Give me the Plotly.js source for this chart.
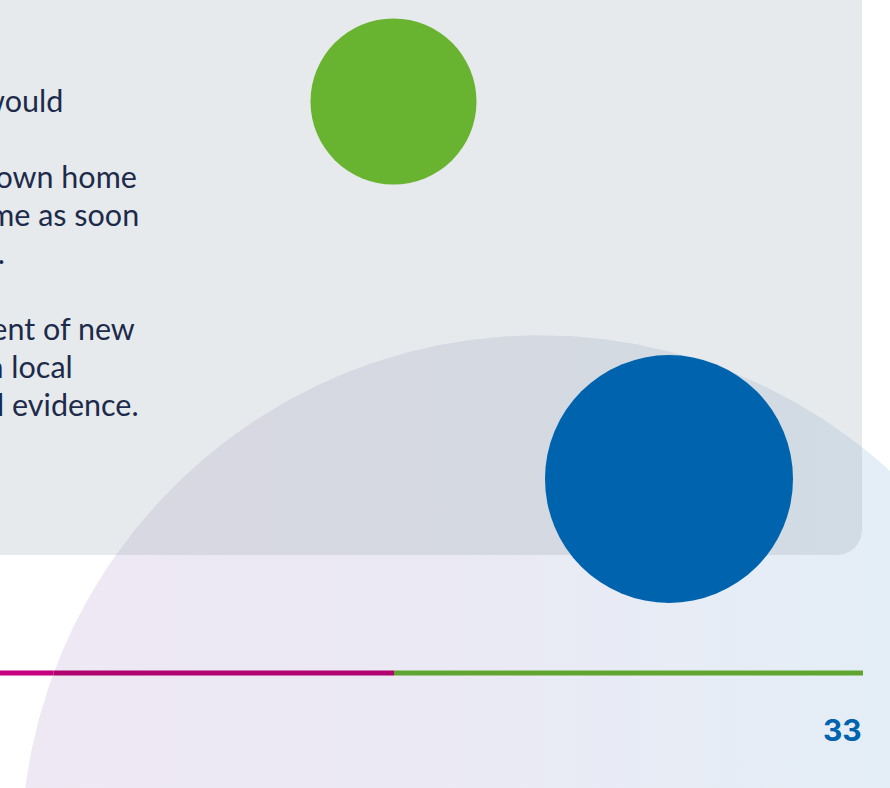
<!DOCTYPE html>
<html>
<head>
<meta charset="utf-8">
<script src="https://cdn.plot.ly/plotly-3.0.1.min.js"></script>
<style>
  html, body { margin: 0; padding: 0; background: #ffffff; }
  #chart { width: 890px; height: 788px; }
</style>
</head>
<body>
<div id="chart"></div>
<script>
const bodyLines = [
  'to continue living safely',
  'older people would',
  'to stay in their own home',
  'or to return home as soon',
  'as possible.',
  'support the development of new',
  'services, based on local',
  'intelligence and national evidence.'
];
const bodyLineRight = [22, 63, 137, 139, 5, 135, 73, 139];
const bodyLineBaseline = [-2, 111, 187, 225, 263, 339, 377, 415];

const dotNames = ['green dot', 'blue dot'];
const dotX = [393.5, 669];
const dotY = [101.5, 479];
const dotDiameter = [166, 248];
const dotColors = ['#68b32f', '#0063ae'];

const arcCenter = [540, 854.2];
const arcRadius = 519;

const pageNumber = '33';

// ---- page geometry ----
const W = 890, H = 788;
const panelRight = 862, panelBottom = 555, panelCorner = 25;
const ruleY = 673, ruleSplit = 394, ruleEnd = 863, ruleHalf = 2.6;

// big arc outline
const N = 400;
const arcX = [], arcY = [];
for (let i = 0; i <= N; i++) {
  const t = 2 * Math.PI * i / N;
  arcX.push(arcCenter[0] + arcRadius * Math.cos(t));
  arcY.push(arcCenter[1] + arcRadius * Math.sin(t));
}

// part of the arc that lies over the grey panel
const tLeft = Math.PI + Math.asin((arcCenter[1] - panelBottom) / arcRadius);
const tRight = 2 * Math.PI - Math.acos((panelRight - arcCenter[0]) / arcRadius);
const ovX = [], ovY = [];
for (let i = 0; i <= 200; i++) {
  const t = tLeft + (tRight - tLeft) * i / 200;
  ovX.push(arcCenter[0] + arcRadius * Math.cos(t));
  ovY.push(arcCenter[1] + arcRadius * Math.sin(t));
}
ovX.push(panelRight); ovY.push(panelBottom - panelCorner);
for (let i = 0; i <= 20; i++) {
  const a = (Math.PI / 2) * i / 20;
  ovX.push(panelRight - panelCorner + panelCorner * Math.cos(a));
  ovY.push(panelBottom - panelCorner + panelCorner * Math.sin(a));
}
ovX.push(ovX[0]); ovY.push(panelBottom);

const edgeAtRule = arcCenter[0] - Math.sqrt(arcRadius * arcRadius - Math.pow(ruleY - arcCenter[1], 2));

const traces = [
  {
    type: 'scatter', mode: 'lines', x: arcX, y: arcY,
    fill: 'toself', line: { width: 0 }, hoverinfo: 'skip',
    fillcolor: 'rgb(235,233,244)',
    fillgradient: {
      type: 'horizontal', start: 0, stop: W,
      colorscale: [[0, 'rgb(238,232,243)'], [0.45, 'rgb(235,233,244)'], [1, 'rgb(228,238,246)']]
    }
  },
  {
    type: 'scatter', mode: 'lines', x: ovX, y: ovY,
    fill: 'toself', line: { width: 0 }, hoverinfo: 'skip',
    fillcolor: 'rgb(213,217,225)',
    fillgradient: {
      type: 'horizontal', start: 0, stop: W,
      colorscale: [[0, 'rgb(217,216,226)'], [0.56, 'rgb(213,217,225)'], [1, 'rgb(209,220,228)']]
    }
  },
  {
    type: 'scatter', mode: 'markers', x: dotX, y: dotY, text: dotNames,
    hoverinfo: 'text', cliponaxis: false,
    marker: { size: dotDiameter, color: dotColors, line: { width: 0 }, opacity: 1 }
  }
];

const panelPath = 'M -20,-20 L ' + panelRight + ',-20 L ' + panelRight + ',' + (panelBottom - panelCorner) +
  ' Q ' + panelRight + ',' + panelBottom + ' ' + (panelRight - panelCorner) + ',' + panelBottom +
  ' L -20,' + panelBottom + ' Z';

const shapes = [
  { type: 'path', path: panelPath, xref: 'x', yref: 'y', fillcolor: '#e7eaec', line: { width: 0 }, layer: 'below' },
  { type: 'rect', xref: 'x', yref: 'y', x0: 0, x1: edgeAtRule, y0: ruleY - ruleHalf, y1: ruleY + ruleHalf,
    fillcolor: '#c4007e', line: { width: 0 }, layer: 'above' },
  { type: 'rect', xref: 'x', yref: 'y', x0: edgeAtRule, x1: ruleSplit, y0: ruleY - ruleHalf, y1: ruleY + ruleHalf,
    fillcolor: '#b0036f', line: { width: 0 }, layer: 'above' },
  { type: 'rect', xref: 'x', yref: 'y', x0: ruleSplit, x1: ruleEnd, y0: ruleY - ruleHalf, y1: ruleY + ruleHalf,
    fillcolor: '#5fa52f', line: { width: 0 }, layer: 'above' }
];

const bodyFont = { family: 'Lato, "Noto Sans", sans-serif', size: 30.5, color: '#1d2b4b' };
const annotations = bodyLines.map((t, i) => ({
  text: t, xref: 'x', yref: 'y', x: bodyLineRight[i] + 2, y: bodyLineBaseline[i] - 11.5,
  xanchor: 'right', yanchor: 'middle', showarrow: false, font: bodyFont, align: 'right'
}));
annotations.push({
  text: '<b>' + pageNumber + '</b>', xref: 'x', yref: 'y', x: 864, y: 730,
  xanchor: 'right', yanchor: 'middle', showarrow: false,
  font: { family: 'Inter, "Open Sans", sans-serif', size: 30, color: '#0063ae' }
});

const layout = {
  width: W, height: H,
  margin: { l: 0, r: 0, t: 0, b: 0, pad: 0 },
  paper_bgcolor: '#ffffff', plot_bgcolor: 'rgba(0,0,0,0)',
  showlegend: false,
  xaxis: { range: [0, W], visible: false, fixedrange: true },
  yaxis: { range: [H, 0], visible: false, fixedrange: true },
  shapes: shapes,
  annotations: annotations
};

Plotly.newPlot('chart', traces, layout, { displayModeBar: false, staticPlot: true });
</script>
</body>
</html>
